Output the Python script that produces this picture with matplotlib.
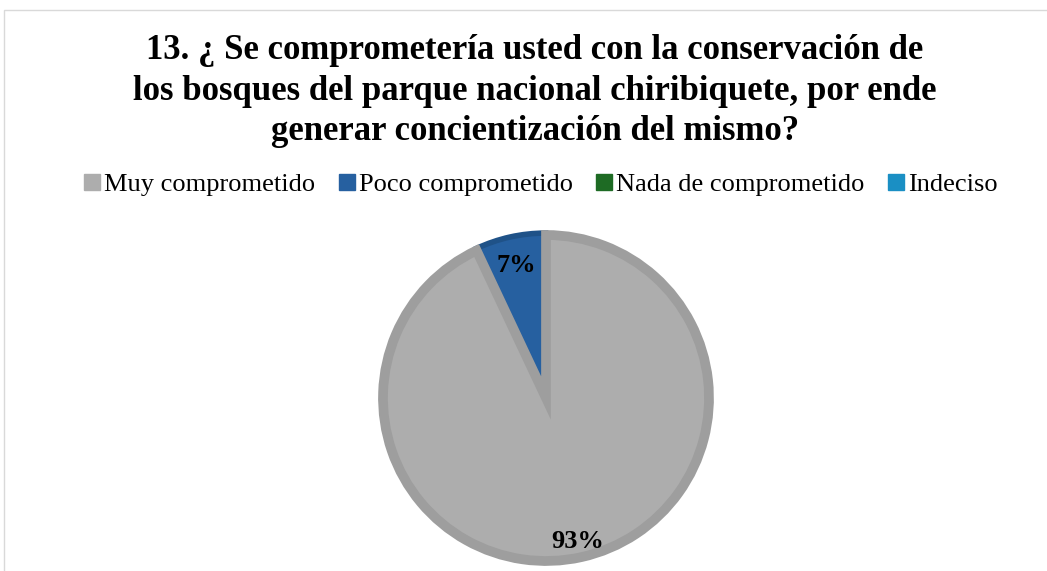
import matplotlib.pyplot as plt
from matplotlib.patches import Patch, Rectangle

plt.rcParams['font.family'] = ['Liberation Serif', 'DejaVu Serif']

title = ("13. ¿ Se comprometería usted con la conservación de\n"
         "los bosques del parque nacional chiribiquete, por ende\n"
         "generar concientización del mismo?")
categories = ["Muy comprometido", "Poco comprometido", "Nada de comprometido", "Indeciso"]
values = [93, 7, 0, 0]
colors = ["#adadad", "#2660a0", "#1e6b24", "#1a8fc4"]
edges = ["#9e9e9e", "#1f5288", "#1e6b24", "#1a8fc4"]
explode = [0.0, 0.012, 0.0, 0.0]

W, H = 1047, 571
fig = plt.figure(figsize=(W / 100, H / 100), dpi=100)

# light border round the chart area
fig.patches.append(Rectangle((4 / W, -0.1), 1.2, (H - 10) / H + 0.1,
                             transform=fig.transFigure, fill=False,
                             edgecolor="#d9d9d9", linewidth=1))

fig.text(535 / W, 1 - 91 / H, title, ha="center", va="center",
         fontsize=25, fontweight="bold", linespacing=1.3)

# pie axes: center (546, 398) px, radius 163 px
R = 163
lim = 1.2
size = 2 * lim * R
cx, cy = 546, H - 398
ax = fig.add_axes([(cx - size / 2) / W, (cy - size / 2) / H, size / W, size / H])

# zero-valued slices are left out of the pie but kept in the legend
idx = [i for i, v in enumerate(values) if v > 0]
wedges, texts, autotexts = ax.pie(
    [values[i] for i in idx],
    colors=[colors[i] for i in idx],
    explode=[explode[i] for i in idx],
    startangle=90, counterclock=False,
    autopct="%1.0f%%", pctdistance=0.82,
    textprops=dict(fontsize=19, fontweight="bold", color="black"),
)
ax.set_xlim(-lim, lim)
ax.set_ylim(-lim, lim)
ax.set_aspect("equal")
ax.axis("off")

wedges[0].set_edgecolor(edges[0])
wedges[0].set_linewidth(7)
wedges[0].set_zorder(3)
wedges[1].set_edgecolor(edges[1])
wedges[1].set_linewidth(4)
wedges[1].set_zorder(2)
for t in autotexts:
    t.set_zorder(5)
for w in wedges:
    w.set_clip_on(False)

# big slice label sits a little further out
x, y = autotexts[0].get_position()
autotexts[0].set_position((x * 0.9 / 0.82, y * 0.9 / 0.82))

handles = [Patch(facecolor=c, edgecolor=c) for c in colors]
fig.legend(handles, categories, loc="center", bbox_to_anchor=(541 / W, 1 - 185 / H),
           ncol=4, frameon=False, fontsize=19, handlelength=0.6, handleheight=0.6,
           handletextpad=0.15, columnspacing=0.9)

fig.savefig("out.png", dpi=100)
